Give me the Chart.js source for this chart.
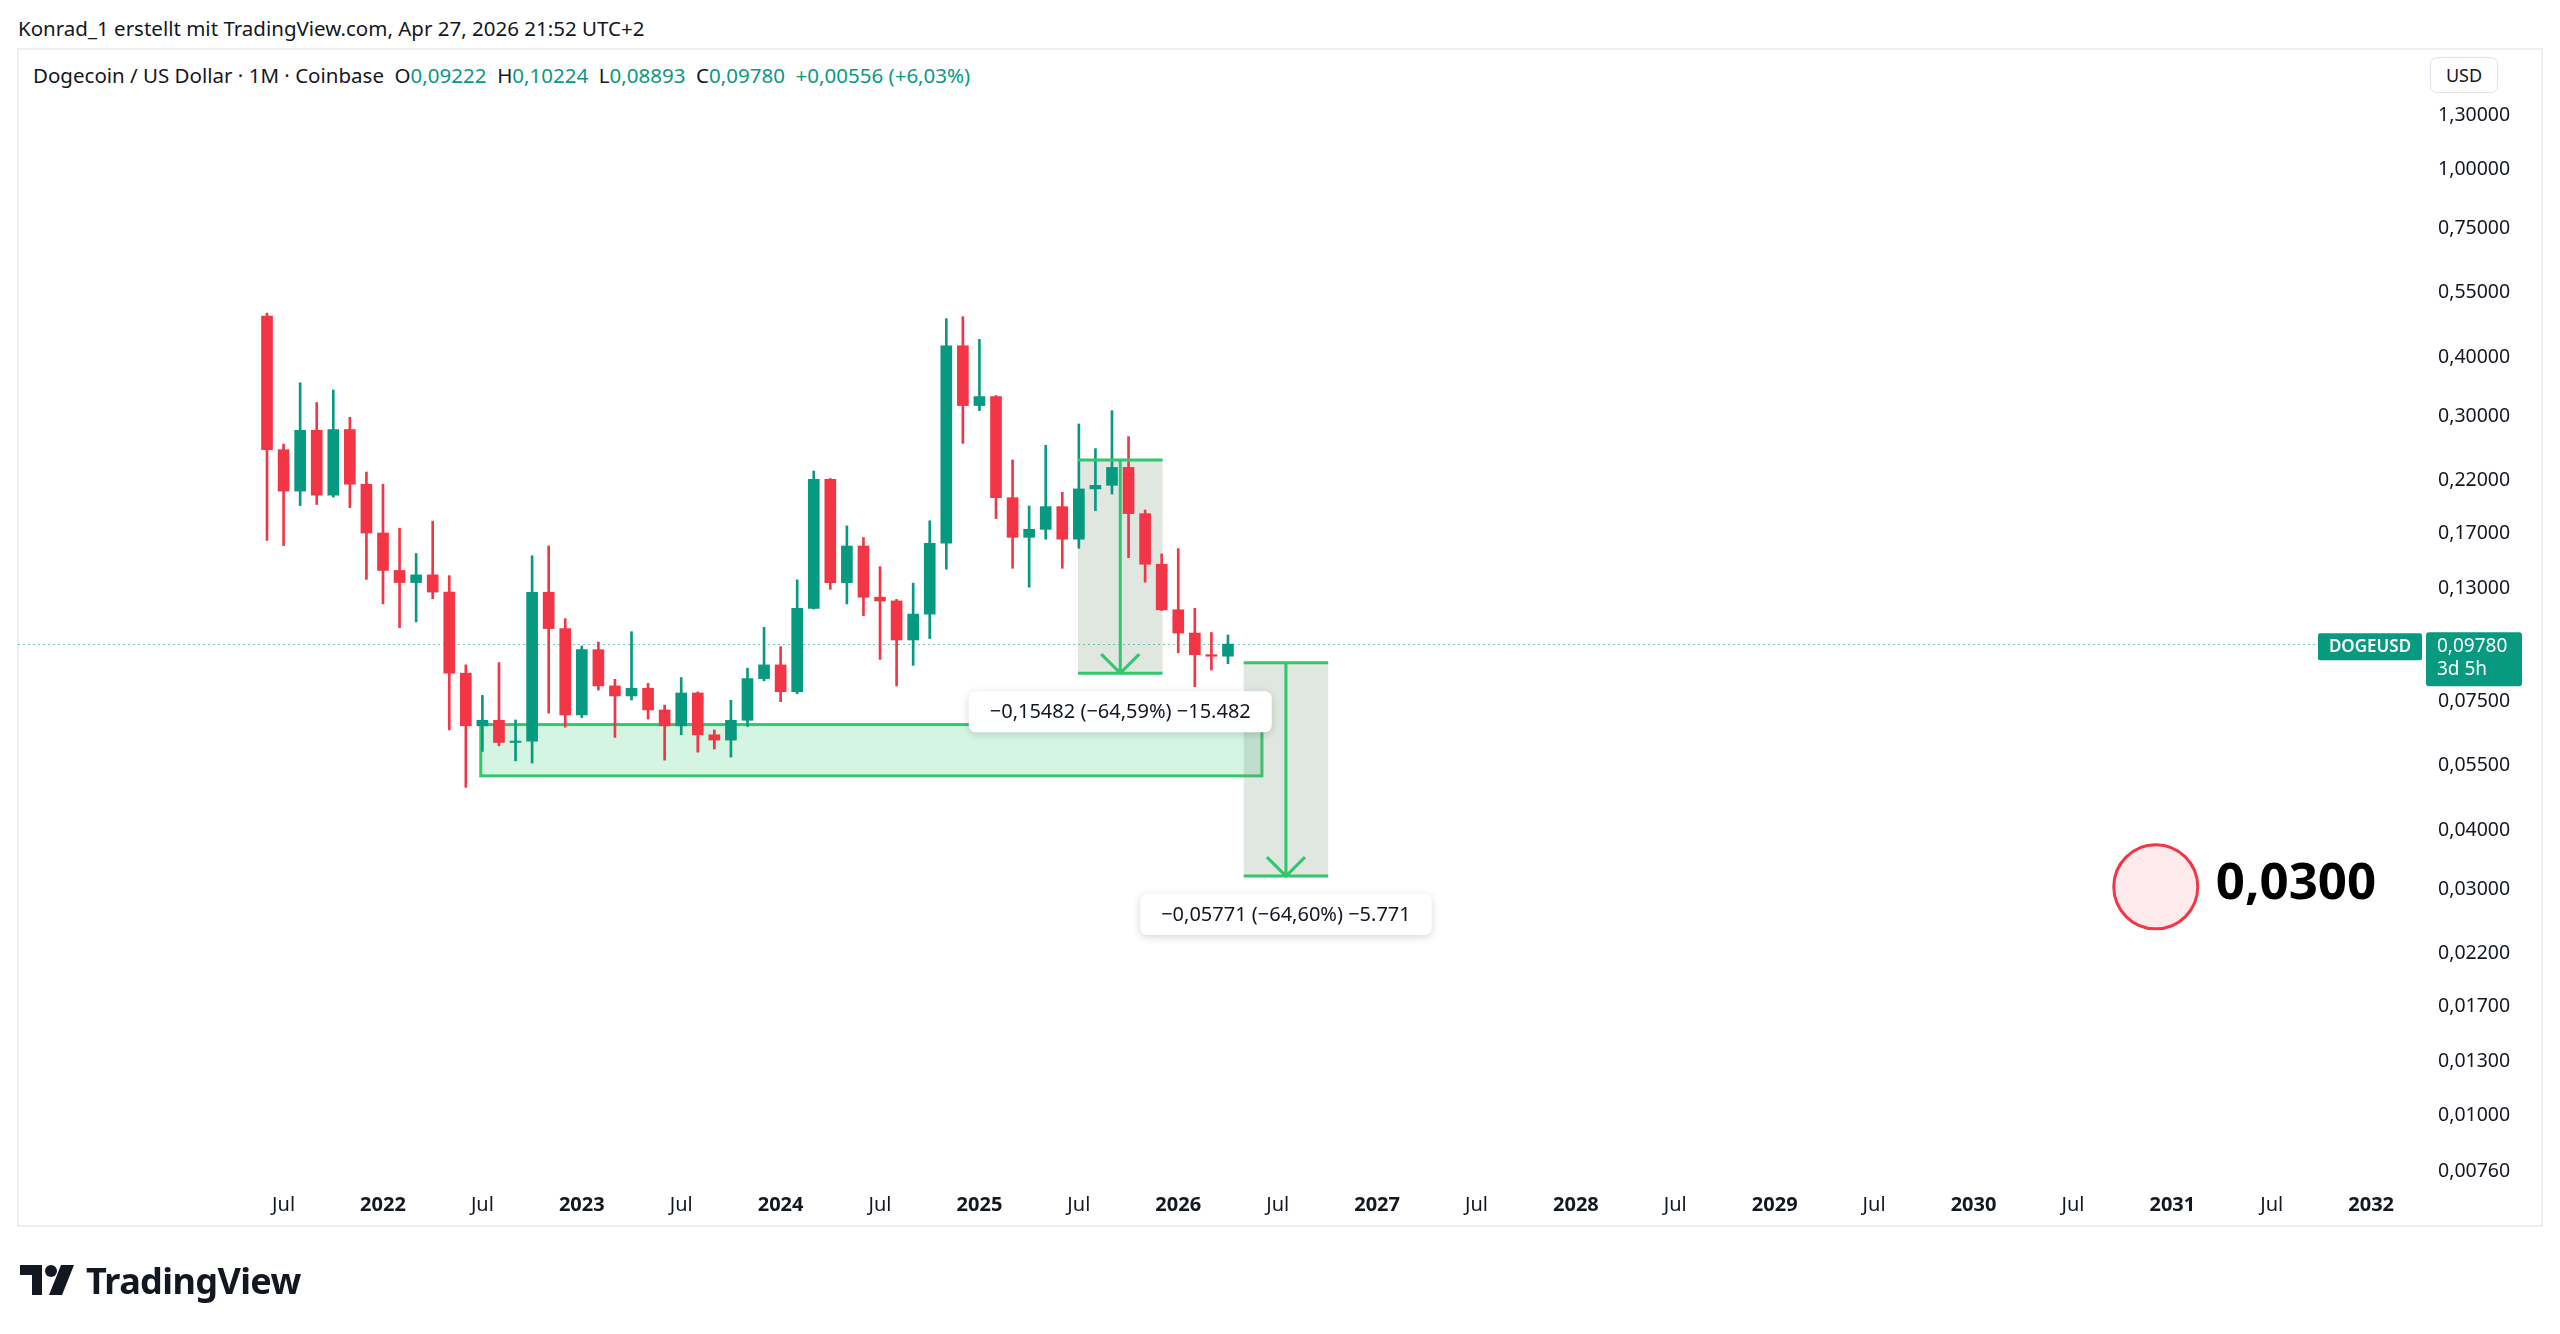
<!DOCTYPE html>
<html>
<head>
<meta charset="utf-8">
<title>Dogecoin / US Dollar</title>
<script src="https://cdn.jsdelivr.net/npm/chart.js@4.4.1/dist/chart.umd.min.js"></script>
<style>
  html, body { margin: 0; padding: 0; background: #ffffff; }
  body {
    width: 2560px; height: 1334px; position: relative; overflow: hidden;
    font-family: "Noto Sans", Roboto, sans-serif; color: #131722;
  }
  #chartCanvas { position: absolute; left: 0; top: 0; }
  .credit { position: absolute; left: 18px; top: 14px; font-size: 20.5px; line-height: 28px; }
  .symbol { position: absolute; left: 33px; top: 61px; font-size: 20.5px; line-height: 28px; white-space: pre; }
  .symbol .v { color: #089981; }
  .usd {
    position: absolute; left: 2430px; top: 57px; width: 66px; height: 34px;
    border: 1px solid #e0e3eb; border-radius: 7px; background: #fff;
    font-size: 18px; line-height: 34px; text-align: center;
  }
  .logo { position: absolute; left: 20px; top: 1258px; height: 44px; display: flex; align-items: center; }
  .logo svg { margin-right: 12px; }
  .logo span { font-weight: 700; font-size: 36px; letter-spacing: -0.6px; }
</style>
</head>
<body>
<div class="credit">Konrad_1 erstellt mit TradingView.com, Apr 27, 2026 21:52 UTC+2</div>
<div class="symbol">Dogecoin / US Dollar · 1M · Coinbase  O<span class="v">0,09222</span>  H<span class="v">0,10224</span>  L<span class="v">0,08893</span>  C<span class="v">0,09780</span>  <span class="v">+0,00556 (+6,03%)</span></div>
<div class="usd">USD</div>
<canvas id="chartCanvas" width="2560" height="1334"></canvas>
<div class="logo">
  <svg width="54" height="30" viewBox="0 0 54 30">
    <path d="M0 0 H22 V30 H12 V10 H0 Z" fill="#131722"/>
    <circle cx="31" cy="6" r="6" fill="#131722"/>
    <path d="M41 0 H54 L42 30 H29 Z" fill="#131722"/>
  </svg>
  <span>TradingView</span>
</div>
<script>
// monthly candles, Coinbase DOGEUSD
var months = [
  "2021-06", "2021-07", "2021-08", "2021-09", "2021-10", "2021-11", "2021-12",
  "2022-01", "2022-02", "2022-03", "2022-04", "2022-05", "2022-06", "2022-07", "2022-08", "2022-09", "2022-10", "2022-11", "2022-12",
  "2023-01", "2023-02", "2023-03", "2023-04", "2023-05", "2023-06", "2023-07", "2023-08", "2023-09", "2023-10", "2023-11", "2023-12",
  "2024-01", "2024-02", "2024-03", "2024-04", "2024-05", "2024-06", "2024-07", "2024-08", "2024-09", "2024-10", "2024-11", "2024-12",
  "2025-01", "2025-02", "2025-03", "2025-04", "2025-05", "2025-06", "2025-07", "2025-08", "2025-09", "2025-10", "2025-11", "2025-12",
  "2026-01", "2026-02", "2026-03", "2026-04"
];
var openPrices = [
  0.483, 0.252, 0.206, 0.277, 0.202, 0.278, 0.213,
  0.168, 0.140, 0.132, 0.137, 0.126, 0.0849, 0.0657, 0.0675, 0.0606, 0.0610, 0.1259, 0.1055,
  0.0693, 0.0952, 0.0798, 0.0760, 0.0789, 0.0710, 0.0657, 0.0771, 0.0629, 0.0613, 0.0675, 0.0827,
  0.0884, 0.0776, 0.1164, 0.2182, 0.1319, 0.1577, 0.1229, 0.1207, 0.0998, 0.1132, 0.1598, 0.4180,
  0.3124, 0.3264, 0.1995, 0.1645, 0.1710, 0.1910, 0.1630, 0.2082, 0.2119, 0.2312, 0.1846, 0.1443,
  0.1156, 0.1032, 0.0929, 0.09222
];
var highPrices = [
  0.490, 0.259, 0.349, 0.317, 0.337, 0.295, 0.226,
  0.213, 0.172, 0.152, 0.178, 0.1365, 0.0884, 0.0762, 0.0894, 0.0676, 0.1504, 0.1577, 0.1107,
  0.0969, 0.0988, 0.0824, 0.1039, 0.0808, 0.0727, 0.0831, 0.0775, 0.0644, 0.0744, 0.0870, 0.1061,
  0.0966, 0.1337, 0.2272, 0.2190, 0.1739, 0.1643, 0.1426, 0.1216, 0.1316, 0.1783, 0.4770, 0.4816,
  0.4312, 0.3280, 0.2397, 0.1916, 0.2575, 0.2048, 0.2856, 0.2533, 0.3048, 0.2686, 0.1879, 0.1517,
  0.1557, 0.1164, 0.1035, 0.10224
];
var lowPrices = [
  0.162, 0.158, 0.192, 0.193, 0.200, 0.190, 0.134,
  0.119, 0.106, 0.109, 0.122, 0.0644, 0.0487, 0.0580, 0.0596, 0.0554, 0.0548, 0.0699, 0.0653,
  0.0684, 0.0782, 0.0621, 0.0745, 0.0679, 0.0556, 0.0629, 0.0578, 0.0587, 0.0564, 0.0655, 0.0818,
  0.0739, 0.0768, 0.1160, 0.1277, 0.1189, 0.1123, 0.0908, 0.0798, 0.0882, 0.1005, 0.1408, 0.2600,
  0.3048, 0.1802, 0.1415, 0.1290, 0.1630, 0.1415, 0.1559, 0.1873, 0.2031, 0.1490, 0.1322, 0.1152,
  0.0938, 0.0795, 0.0862, 0.08893
];
var closePrices = [
  0.252, 0.206, 0.277, 0.202, 0.278, 0.213, 0.168,
  0.140, 0.132, 0.137, 0.126, 0.0849, 0.0657, 0.0675, 0.0606, 0.0610, 0.1259, 0.1055, 0.0693,
  0.0952, 0.0798, 0.0760, 0.0789, 0.0710, 0.0657, 0.0771, 0.0629, 0.0613, 0.0675, 0.0827, 0.0884,
  0.0776, 0.1164, 0.2182, 0.1319, 0.1577, 0.1229, 0.1207, 0.0998, 0.1132, 0.1598, 0.4180, 0.3124,
  0.3264, 0.1995, 0.1645, 0.1710, 0.1910, 0.1630, 0.2082, 0.2119, 0.2312, 0.1846, 0.1443, 0.1156,
  0.1032, 0.0929, 0.0922, 0.0978
];

// axis ticks
var priceTicks = [1.3, 1.0, 0.75, 0.55, 0.40, 0.30, 0.22, 0.17, 0.13, 0.075, 0.055, 0.04, 0.03, 0.022, 0.017, 0.013, 0.010, 0.0076];
var timeTickLabels = ["Jul", "2022", "Jul", "2023", "Jul", "2024", "Jul", "2025", "Jul", "2026", "Jul",
  "2027", "Jul", "2028", "Jul", "2029", "Jul", "2030", "Jul", "2031", "Jul", "2032"];
var timeTickMonths = [1, 7, 13, 19, 25, 31, 37, 43, 49, 55, 61,
  67, 73, 79, 85, 91, 97, 103, 109, 115, 121, 127];

// drawings (x in months since 2021-06, y in USD)
var zoneMonths = [12.9, 60.05];
var zonePrices = [0.0661, 0.0515];
var drop1Months = [48.95, 54.05];
var drop1Prices = [0.2397, 0.0849];
var drop1Text = "\u22120,15482 (\u221264,59%) \u221215.482";
var drop2Months = [58.95, 64.05];
var drop2Prices = [0.08933, 0.03162];
var drop2Text = "\u22120,05771 (\u221264,60%) \u22125.771";
var targetMonth = 114;
var targetPrice = 0.03;
var targetText = "0,0300";
var lastPrice = 0.0978;

var upColor = "#089981";
var downColor = "#F23645";
var drawGreen = "#31c76c";
var fontFamily = '"Noto Sans", Roboto, sans-serif';

var bodyData = [];
var wickData = [];
var candleColors = [];
for (var i = 0; i < months.length; i++) {
  bodyData.push({ x: i, y: [openPrices[i], closePrices[i]] });
  wickData.push({ x: i, y: [lowPrices[i], highPrices[i]] });
  candleColors.push(closePrices[i] >= openPrices[i] ? upColor : downColor);
}

function formatPrice(v, digits) {
  return v.toFixed(digits).replace(".", ",");
}

function measureBox(ctx, xs, ys, text, xScale, yScale, fillOnly) {
  var left = xScale.getPixelForValue(xs[0]);
  var right = xScale.getPixelForValue(xs[1]);
  var top = yScale.getPixelForValue(ys[0]);
  var bottom = yScale.getPixelForValue(ys[1]);
  var cx = (left + right) / 2;
  if (fillOnly) {
    ctx.fillStyle = "rgba(131,155,131,0.25)";
    ctx.fillRect(left, top, right - left, bottom - top);
    return;
  }
  ctx.strokeStyle = drawGreen;
  ctx.lineWidth = 3;
  ctx.beginPath();
  ctx.moveTo(left, top); ctx.lineTo(right, top);
  ctx.moveTo(left, bottom); ctx.lineTo(right, bottom);
  ctx.moveTo(cx, top); ctx.lineTo(cx, bottom);
  ctx.moveTo(cx - 19, bottom - 19); ctx.lineTo(cx, bottom); ctx.lineTo(cx + 19, bottom - 19);
  ctx.stroke();

  // value label under the box
  ctx.font = "20px " + fontFamily;
  var w = ctx.measureText(text).width + 42;
  var h = 41;
  var bx = cx - w / 2;
  var by = bottom + 18;
  ctx.save();
  ctx.shadowColor = "rgba(0,0,0,0.16)";
  ctx.shadowBlur = 8;
  ctx.shadowOffsetY = 2;
  ctx.fillStyle = "#ffffff";
  ctx.beginPath();
  ctx.roundRect(bx, by, w, h, 7);
  ctx.fill();
  ctx.restore();
  ctx.fillStyle = "#131722";
  ctx.textAlign = "center";
  ctx.textBaseline = "middle";
  ctx.fillText(text, cx, by + h / 2 + 1);
}

var drawingsPlugin = {
  id: "drawings",
  beforeDraw: function (chart) {
    var ctx = chart.ctx;
    ctx.save();
    ctx.strokeStyle = "#eeeeee";
    ctx.lineWidth = 2;
    ctx.strokeRect(18, 49, 2524, 1177);
    ctx.restore();
  },
  beforeDatasetsDraw: function (chart) {
    var ctx = chart.ctx;
    var xs = chart.scales.x;
    var ys = chart.scales.y;
    var area = chart.chartArea;
    ctx.save();
    // support zone
    var zl = xs.getPixelForValue(zoneMonths[0]);
    var zr = xs.getPixelForValue(zoneMonths[1]);
    var zt = ys.getPixelForValue(zonePrices[0]);
    var zb = ys.getPixelForValue(zonePrices[1]);
    ctx.fillStyle = "rgba(46,204,113,0.2)";
    ctx.fillRect(zl, zt, zr - zl, zb - zt);
    ctx.strokeStyle = drawGreen;
    ctx.lineWidth = 3;
    ctx.strokeRect(zl, zt, zr - zl, zb - zt);

    measureBox(ctx, drop1Months, drop1Prices, drop1Text, xs, ys, true);
    measureBox(ctx, drop2Months, drop2Prices, drop2Text, xs, ys, true);

    // last price line
    var py = Math.round(ys.getPixelForValue(lastPrice)) + 0.5;
    ctx.strokeStyle = "rgba(8,153,129,0.55)";
    ctx.lineWidth = 1;
    ctx.setLineDash([2, 3]);
    ctx.beginPath();
    ctx.moveTo(area.left, py);
    ctx.lineTo(area.right, py);
    ctx.stroke();
    ctx.restore();
  },
  afterDatasetsDraw: function (chart) {
    var ctx = chart.ctx;
    var xs = chart.scales.x;
    var ys = chart.scales.y;
    var area = chart.chartArea;
    ctx.save();
    measureBox(ctx, drop1Months, drop1Prices, drop1Text, xs, ys, false);
    measureBox(ctx, drop2Months, drop2Prices, drop2Text, xs, ys, false);

    // target circle
    var tx = xs.getPixelForValue(targetMonth);
    var ty = ys.getPixelForValue(targetPrice);
    ctx.beginPath();
    ctx.arc(tx, ty, 42, 0, Math.PI * 2);
    ctx.fillStyle = "#fdeaec";
    ctx.fill();
    ctx.strokeStyle = "#f23645";
    ctx.lineWidth = 3;
    ctx.stroke();
    ctx.fillStyle = "#000000";
    ctx.font = "bold 51px " + fontFamily;
    ctx.textAlign = "left";
    ctx.textBaseline = "middle";
    ctx.fillText(targetText, tx + 60, ty - 2);

    // price scale labels
    var py = ys.getPixelForValue(lastPrice);
    ctx.fillStyle = upColor;
    ctx.beginPath();
    ctx.roundRect(area.right - 105, py - 11, 104, 27, 2);
    ctx.fill();
    ctx.beginPath();
    ctx.roundRect(area.right + 3, py - 12, 96, 54, 3);
    ctx.fill();
    ctx.fillStyle = "#ffffff";
    ctx.font = "600 17px " + fontFamily;
    ctx.textAlign = "center";
    ctx.fillText("DOGEUSD", area.right - 53, py + 3);
    ctx.font = "19px " + fontFamily;
    ctx.textAlign = "left";
    ctx.fillText(formatPrice(lastPrice, 5), area.right + 14, py + 2);
    ctx.fillText("3d 5h", area.right + 14, py + 25);
    ctx.restore();
  }
};

var ctx = document.getElementById("chartCanvas").getContext("2d");
var candleChart = new Chart(ctx, {
  type: "bar",
  data: {
    datasets: [
      {
        label: "Wicks",
        data: wickData,
        backgroundColor: candleColors,
        barThickness: 2,
        grouped: false,
        order: 2,
      },
      {
        label: "Bodies",
        data: bodyData,
        backgroundColor: candleColors,
        barThickness: 11,
        grouped: false,
        order: 1,
      },
    ],
  },
  options: {
    responsive: false,
    animation: false,
    devicePixelRatio: 1,
    layout: { padding: { left: 18, top: 49, right: 18, bottom: 108 } },
    plugins: {
      legend: { display: false },
      tooltip: { enabled: false },
    },
    scales: {
      x: {
        type: "linear",
        min: -15.03,
        max: 130.13,
        offset: false,
        grid: { display: false },
        border: { display: false },
        afterBuildTicks: function (scale) {
          scale.ticks = timeTickMonths.map(function (m) { return { value: m }; });
        },
        afterFit: function (scale) {
          scale.height = 44;
        },
        ticks: {
          autoSkip: false,
          maxRotation: 0,
          padding: 3,
          color: "#131722",
          font: function (c) {
            var label = c.tick ? c.tick.label : "";
            return { family: fontFamily, size: 20, weight: label === "Jul" ? "normal" : "bold" };
          },
          callback: function (value) {
            return timeTickLabels[timeTickMonths.indexOf(value)];
          },
        },
      },
      y: {
        type: "logarithmic",
        position: "right",
        min: 0.007131,
        max: 1.7725,
        grid: { display: false, drawTicks: false },
        border: { display: false },
        afterBuildTicks: function (scale) {
          scale.ticks = priceTicks.map(function (v) { return { value: v }; });
        },
        afterFit: function (scale) {
          scale.width = 119;
        },
        ticks: {
          padding: 15,
          labelOffset: 3,
          color: "#131722",
          font: { family: fontFamily, size: 19.5 },
          callback: function (value) {
            return formatPrice(value, 5);
          },
        },
      },
    },
  },
  plugins: [drawingsPlugin],
});
</script>
</body>
</html>
